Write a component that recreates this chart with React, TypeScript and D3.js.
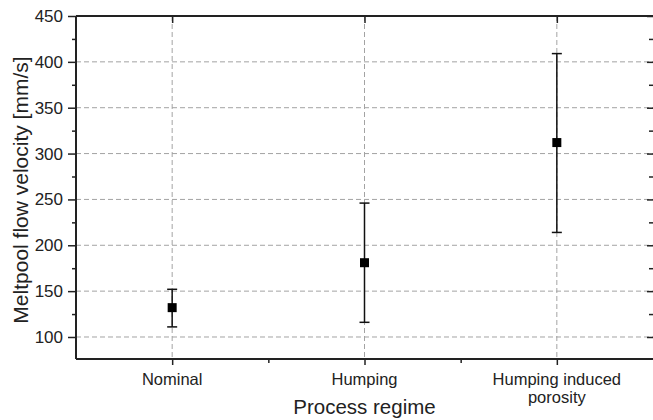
import React, { useRef, useEffect } from 'react';
import * as d3 from 'd3';

const categories = ['Nominal', 'Humping', 'Humping induced porosity'];
const means = [132, 181, 312];
const upper = [152, 246, 409];
const lower = [111, 116, 214];
const yTicks = [100, 150, 200, 250, 300, 350, 400, 450];

const App = () => {
  const ref = useRef(null);

  useEffect(() => {
    if (!ref.current) return;
    const W = 653;
    const H = 420;
    const margin = { top: 16, right: 0, bottom: 61, left: 76 };
    const width = W - margin.left - margin.right;
    const height = H - margin.top - margin.bottom;

    d3.select(ref.current).selectAll('*').remove();
    const svg = d3.select(ref.current)
      .attr('width', W)
      .attr('height', H)
      .style('font-family', 'Liberation Sans, Arial, sans-serif');

    const g = svg.append('g').attr('transform', `translate(${margin.left},${margin.top})`);

    const x = d3.scaleLinear().domain([0.5, 3.5]).range([0, width]);
    const y = d3.scaleLinear().domain([76, 450]).range([height, 0]);

    const gridColor = '#a3a3a3';

    // grid lines
    g.selectAll('.hgrid')
      .data(yTicks.filter(t => t < 450))
      .enter().append('line')
      .attr('x1', 0).attr('x2', width)
      .attr('y1', d => y(d)).attr('y2', d => y(d))
      .attr('stroke', gridColor)
      .attr('stroke-width', 1)
      .attr('stroke-dasharray', '5,3');

    g.selectAll('.vgrid')
      .data(categories)
      .enter().append('line')
      .attr('x1', (d, i) => x(i + 1)).attr('x2', (d, i) => x(i + 1))
      .attr('y1', 0).attr('y2', height)
      .attr('stroke', gridColor)
      .attr('stroke-width', 1)
      .attr('stroke-dasharray', '5,3');

    // axes
    const axisColor = '#222';
    const minorY = d3.range(75, 451, 25).filter(v => v >= 76 && v % 50 !== 0);
    const styleAxis = (sel) => {
      sel.select('.domain').remove();
      sel.selectAll('line').attr('stroke', axisColor).attr('stroke-width', 1.5);
    };

    // left axis
    const left = g.append('g')
      .call(d3.axisLeft(y).tickValues(yTicks).tickSize(8).tickPadding(5));
    styleAxis(left);
    left.attr('font-size', 17).attr('font-family', null);
    left.selectAll('text').attr('fill', '#222');
    g.append('g').call(d3.axisLeft(y).tickValues(minorY).tickSize(4).tickFormat(() => ''))
      .call(styleAxis);

    // right axis ticks (inward)
    g.append('g').attr('transform', `translate(${width},0)`)
      .call(d3.axisLeft(y).tickValues(yTicks).tickSize(6).tickFormat(() => ''))
      .call(styleAxis);
    g.append('g').attr('transform', `translate(${width},0)`)
      .call(d3.axisLeft(y).tickValues(minorY).tickSize(4).tickFormat(() => ''))
      .call(styleAxis);

    // bottom axis
    const bottom = g.append('g').attr('transform', `translate(0,${height})`)
      .call(d3.axisBottom(x).tickValues([1, 2, 3]).tickSize(6).tickFormat(() => ''));
    styleAxis(bottom);
    g.append('g').attr('transform', `translate(0,${height})`)
      .call(d3.axisBottom(x).tickValues([1.5, 2.5]).tickSize(4).tickFormat(() => ''))
      .call(styleAxis);

    // top axis ticks (inward)
    g.append('g')
      .call(d3.axisBottom(x).tickValues([1, 2, 3]).tickSize(7).tickFormat(() => ''))
      .call(styleAxis);

    // frame
    g.append('line').attr('x1', 0).attr('x2', width).attr('y1', height).attr('y2', height)
      .attr('stroke', axisColor).attr('stroke-width', 2);
    g.append('line').attr('x1', 0).attr('x2', width).attr('y1', 0).attr('y2', 0)
      .attr('stroke', axisColor).attr('stroke-width', 2);
    g.append('line').attr('x1', 0).attr('x2', 0).attr('y1', 0).attr('y2', height)
      .attr('stroke', axisColor).attr('stroke-width', 2);

    // category labels
    categories.forEach((c, i) => {
      const lines = c === 'Humping induced porosity' ? ['Humping induced', 'porosity'] : [c];
      const t = g.append('text')
        .attr('x', x(i + 1))
        .attr('y', height + 26)
        .attr('text-anchor', 'middle')
        .attr('font-size', 16.5)
        .attr('fill', '#222');
      lines.forEach((l, j) => {
        t.append('tspan').attr('x', x(i + 1)).attr('dy', j === 0 ? 0 : 18).text(l);
      });
    });

    // axis titles
    svg.append('text')
      .attr('x', margin.left + x(2))
      .attr('y', 414)
      .attr('text-anchor', 'middle')
      .attr('font-size', 20.5)
      .attr('fill', '#222')
      .text('Process regime');

    svg.append('text')
      .attr('transform', `translate(28,190) rotate(-90)`)
      .attr('text-anchor', 'middle')
      .attr('font-size', 21)
      .attr('fill', '#222')
      .text('Meltpool flow velocity [mm/s]');

    // error bars
    const cap = 5;
    categories.forEach((c, i) => {
      const cx = x(i + 1);
      g.append('line').attr('x1', cx).attr('x2', cx)
        .attr('y1', y(upper[i])).attr('y2', y(lower[i]))
        .attr('stroke', '#111').attr('stroke-width', 1.5);
      [upper[i], lower[i]].forEach(v => {
        g.append('line').attr('x1', cx - cap).attr('x2', cx + cap)
          .attr('y1', y(v)).attr('y2', y(v))
          .attr('stroke', '#111').attr('stroke-width', 1.5);
      });
      g.append('rect')
        .attr('x', cx - 4.5).attr('y', y(means[i]) - 4.5)
        .attr('width', 9).attr('height', 9)
        .attr('fill', '#000');
    });
  }, []);

  return (
    <svg ref={ref} style={{ position: 'absolute', left: 0, top: 0, background: '#fff' }} />
  );
};

export default App;
